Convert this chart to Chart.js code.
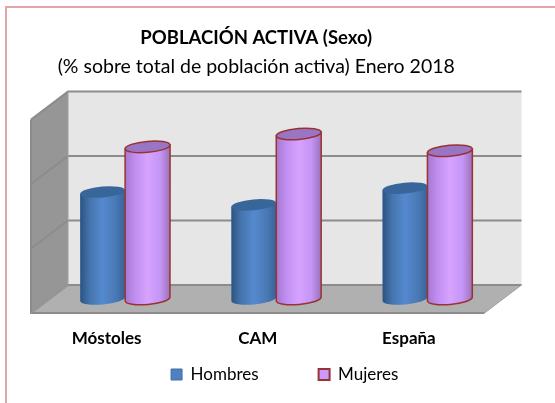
<!DOCTYPE html>
<html><head><meta charset="utf-8">
<script src="https://cdn.jsdelivr.net/npm/chart.js@4"></script>
<style>html,body{margin:0;padding:0;background:#fff}canvas{display:block}</style>
</head><body><canvas id="c" width="555" height="403"></canvas>
<script>
const categories = ['Móstoles', 'CAM', 'España'];
const hombres = [48.3, 47.3, 48.6];
const mujeres = [51.8, 52.8, 51.5];
const axisMin = 40, axisMax = 55, axisStep = 5;
const titleText = 'POBLACIÓN ACTIVA (Sexo)';
const subtitleText = '(% sobre total de población activa) Enero 2018';
const FONT = 'Lato, Carlito, sans-serif';
const depthX = 18.5, depthY = 14;

const shades = {
  '#4f81bd': {edge0:'#2b5384', mid0:'#4575ad', mid:'#5589cf', mid1:'#4a7ab5', edge1:'#37639a', top:'#38659a', line:null},
  '#cc99ff': {edge0:'#a478cf', mid0:'#c08ef0', mid:'#d6a3ff', mid1:'#c595f5', edge1:'#9a72b8', top:'#9a75c4', line:'#993333'}
};

class CylinderElement extends Chart.BarElement {
  draw(ctx) {
    const {x, y, base, width} = this.getProps(['x','y','base','width']);
    const o = this.options;
    const s = shades[String(o.backgroundColor).toLowerCase()];
    const rx = width / 2, ry = 5.5, rot = -5 * Math.PI / 180;
    const dy = Math.sin(rot) * rx;
    ctx.save();
    const g = ctx.createLinearGradient(x - rx, 0, x + rx, 0);
    g.addColorStop(0, s.edge0); g.addColorStop(0.22, s.mid0); g.addColorStop(0.5, s.mid);
    g.addColorStop(0.78, s.mid1); g.addColorStop(1, s.edge1);
    ctx.beginPath();
    ctx.ellipse(x, base, rx, ry, rot, Math.PI, 0, true);
    ctx.lineTo(x + rx, y + dy);
    ctx.lineTo(x - rx, y - dy);
    ctx.closePath();
    ctx.fillStyle = g; ctx.fill();
    if (s.line) { ctx.strokeStyle = s.line; ctx.lineWidth = 1.5; ctx.stroke(); }
    ctx.beginPath();
    ctx.ellipse(x, y, rx, ry, rot, 0, Math.PI * 2);
    ctx.fillStyle = s.top; ctx.fill();
    if (s.line) { ctx.strokeStyle = s.line; ctx.lineWidth = 1.5; ctx.stroke(); }
    ctx.restore();
  }
}
CylinderElement.id = 'cylinder';
CylinderElement.defaults = Chart.BarElement.defaults;
CylinderElement.defaultRoutes = Chart.BarElement.defaultRoutes;
class CylinderController extends Chart.BarController {}
CylinderController.id = 'cylinderBar';
CylinderController.defaults = Object.assign({}, Chart.BarController.defaults, {dataElementType: 'cylinder'});
CylinderController.overrides = Chart.BarController.overrides;
Chart.register(CylinderElement, CylinderController);

const box3d = {
  id: 'box3d',
  afterLayout(chart) {
    chart.boxes.filter(b => b.position === 'top').forEach(b => { b.left -= 16; b.right -= 16; });
    const lg = chart.legend;
    lg.left += 12.5; lg.right += 12.5;
    lg.top = 366 - lg.options.labels.padding;
  },
  beforeDraw(chart) {
    const c = chart.ctx;
    c.save();
    c.strokeStyle = '#e3a5a5'; c.lineWidth = 2;
    c.beginPath(); c.moveTo(6, 403); c.lineTo(6, 7); c.lineTo(555, 7); c.stroke();
    c.restore();
  },
  beforeDatasetsDraw(chart) {
    const c = chart.ctx, a = chart.chartArea, y = chart.scales.y;
    const l = a.left, r = a.right, t = a.top, b = a.bottom;
    const bl = l + depthX, br = r + depthX, bt = t - depthY, bb = b - depthY;
    const fl = l - depthX, fr = r - depthX, fb = b + depthY, ft = t + depthY;
    const poly = (pts, fill) => {
      c.beginPath(); pts.forEach((p, i) => i ? c.lineTo(p[0], p[1]) : c.moveTo(p[0], p[1])); c.closePath();
      c.fillStyle = fill; c.fill();
    };
    c.save();
    poly([[bl,bt],[br,bt],[br,bb],[bl,bb]], '#e6e6e6');
    poly([[fl,ft],[bl,bt],[bl,bb],[fl,fb]], '#969696');
    poly([[fl,fb],[bl,bb],[br,bb],[fr,fb]], '#b0b0b0');
    c.strokeStyle = '#8c8c8c'; c.lineWidth = 2;
    y.ticks.forEach(tk => {
      const py = y.getPixelForValue(tk.value);
      c.beginPath();
      c.moveTo(fl, py + depthY); c.lineTo(bl, py - depthY); c.lineTo(br, py - depthY);
      c.stroke();
    });
    c.beginPath(); c.moveTo(fl, ft); c.lineTo(fl, fb); c.lineTo(fr, fb); c.stroke();
    c.lineWidth = 1;
    c.strokeStyle = '#a0a0a0';
    c.beginPath(); c.moveTo(fr, fb); c.lineTo(br, bb); c.moveTo(bl, bt); c.lineTo(bl, bb); c.lineTo(fl, fb); c.stroke();
    c.restore();
  },
  beforeDatasetDraw(chart, args) { if (args.index === 1) return false; },
  afterDatasetsDraw(chart) { chart.getDatasetMeta(1).controller.draw(); }
};

new Chart(document.getElementById('c'), {
  type: 'cylinderBar',
  data: {
    labels: categories,
    datasets: [
      {label: 'Hombres', data: hombres, base: axisMin, backgroundColor: '#4F81BD', borderColor: '#3E6FA8', borderWidth: 1, clip: false},
      {label: 'Mujeres', data: mujeres, base: axisMin, backgroundColor: '#CC99FF', borderColor: '#993333', borderWidth: 2, clip: false}
    ]
  },
  plugins: [box3d],
  options: {
    responsive: false, animation: false,
    layout: {padding: {left: 41.5, right: 52, top: 27, bottom: 10}},
    datasets: {cylinderBar: {categoryPercentage: 0.595, barPercentage: 1}},
    scales: {
      x: {grid: {display: false}, border: {display: false},
          afterFit(s) { s.height = 56; },
          ticks: {color: '#000', labelOffset: -18.5, padding: 21, maxRotation: 0, font: {family: FONT, size: 17, weight: 'bold'}}},
      y: {min: axisMin, max: axisMax, ticks: {display: false, stepSize: axisStep}, grid: {display: false}, border: {display: false}}
    },
    plugins: {
      title: {display: true, text: titleText, color: '#000', font: {family: FONT, size: 18.5, weight: 'bold'}, padding: {top: 0, bottom: 6}},
      subtitle: {display: true, text: subtitleText, color: '#000', font: {family: FONT, size: 19.5, weight: 'normal'}, padding: {top: 0, bottom: 27}},
      legend: {position: 'bottom', maxHeight: 38, labels: {color: '#000', boxWidth: 11, boxHeight: 11, padding: 60, font: {family: FONT, size: 17}}},
      tooltip: {enabled: false}
    }
  }
});
</script></body></html>
